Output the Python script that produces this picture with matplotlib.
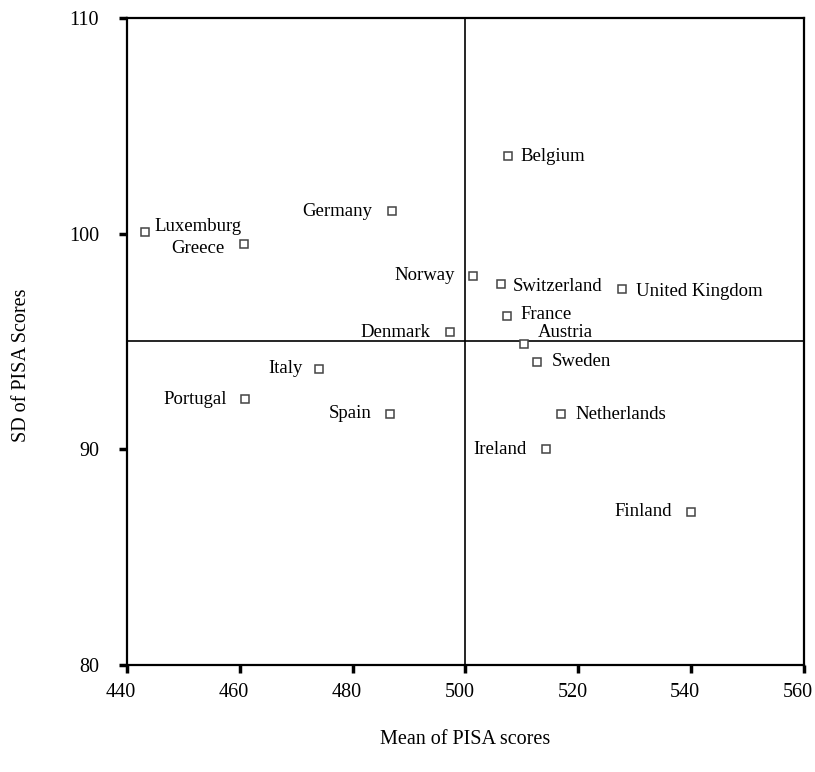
import matplotlib
matplotlib.use("Agg")
import matplotlib.pyplot as plt
import matplotlib.transforms as mtransforms

plt.rcParams["font.family"] = ["Liberation Serif", "DejaVu Serif"]

countries = ["Belgium", "Luxemburg", "Greece", "Germany", "Norway", "Switzerland",
             "United Kingdom", "France", "Denmark", "Austria", "Sweden", "Italy",
             "Portugal", "Spain", "Netherlands", "Ireland", "Finland"]
mean_scores = [507.5, 443.2, 460.7, 487.0, 501.3, 506.3,
               527.7, 507.4, 497.3, 510.4, 512.7, 474.0,
               460.9, 486.6, 516.9, 514.3, 540.0]
sd_scores = [103.6, 100.1, 99.5, 101.05, 98.04, 97.65,
             97.42, 96.2, 95.43, 94.89, 94.07, 93.73,
             92.32, 91.64, 91.63, 90.0, 87.11]

x_ticks = [440, 460, 480, 500, 520, 540, 560]
y_ticks = [80, 90, 100, 110]
mean_cut = 500
sd_cut = 95

# label side and pixel offsets for each country
placement = {
    "Belgium": ("left", 13, 0), "Luxemburg": ("left", 9, 5),
    "Greece": ("right", -19, -4), "Germany": ("right", -20, 0),
    "Norway": ("right", -18, 0), "Switzerland": ("left", 12, -2),
    "United Kingdom": ("left", 14, -2), "France": ("left", 13, 1),
    "Denmark": ("right", -20, 0), "Austria": ("left", 14, 11),
    "Sweden": ("left", 15, 0), "Italy": ("right", -16, 0),
    "Portugal": ("right", -18, 0), "Spain": ("right", -18, 0),
    "Netherlands": ("left", 15, 0), "Ireland": ("right", -20, 0),
    "Finland": ("right", -19, 0),
}

fig = plt.figure(figsize=(8.15, 7.72), dpi=100)
ax = fig.add_axes([0.1558, 0.1386, 0.8307, 0.8381])

ax.axvline(mean_cut, color="black", lw=1.2, zorder=1)
ax.axhline(sd_cut, color="black", lw=1.2, zorder=1)

ax.plot(mean_scores, sd_scores, linestyle="none", marker="s", markersize=5.5,
        markerfacecolor="white", markeredgecolor="#444444", markeredgewidth=1.1, zorder=3)

for name, x, y in zip(countries, mean_scores, sd_scores):
    ha, dx, dy = placement[name]
    ax.annotate(name, (x, y), xytext=(dx, dy), textcoords="offset pixels",
                ha=ha, va="center", fontsize=13.5)

ax.set_xlim(440, 560)
ax.set_ylim(80, 110)
ax.set_xticks(x_ticks)
ax.set_yticks(y_ticks)
ax.tick_params(axis="both", direction="out", length=6, width=2.5, labelsize=14.5)
ax.tick_params(axis="x", pad=7)
ax.tick_params(axis="y", pad=14)
for side in ["left", "bottom", "top", "right"]:
    ax.spines[side].set_linewidth(1.6)

# x tick labels sit a little left of their ticks
shift = mtransforms.ScaledTranslation(-6 / 100, 0, fig.dpi_scale_trans)
for lbl in ax.get_xticklabels():
    lbl.set_transform(lbl.get_transform() + shift)

fig.text(465 / 815, 1 - 740 / 772, "Mean of PISA scores", ha="center", va="center", fontsize=14.5)
fig.text(22 / 815, 1 - 365 / 772, "SD of PISA Scores", ha="center", va="center",
         rotation=90, fontsize=14.5)

fig.savefig("out.png", dpi=100)
